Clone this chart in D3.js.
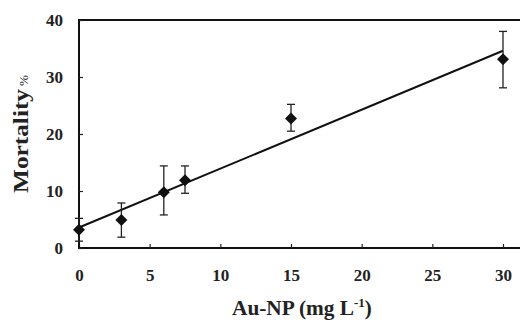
<!DOCTYPE html>
<html>
<head>
<meta charset="utf-8">
<script src="https://cdn.jsdelivr.net/npm/d3@7"></script>
<style>
  body { margin: 0; background: #fff; }
  svg { display: block; }
</style>
</head>
<body>
<svg width="520" height="320"></svg>
<script>
// Data
const concentrations = [0, 3, 6, 7.5, 15, 30];
const mortality = [3.2, 4.9, 9.8, 11.9, 22.7, 33.1];
const errUpper = [5.2, 7.9, 14.4, 14.4, 25.2, 38.0];
const errLower = [1.2, 1.9, 5.8, 9.6, 20.5, 28.1];
const fitLine = [{ x: 0, y: 3.6 }, { x: 30, y: 34.6 }];
const xTicks = [0, 5, 10, 15, 20, 25, 30];
const yTicks = [0, 10, 20, 30, 40];

const svg = d3.select('svg');
const margin = { top: 20, right: 17, bottom: 72, left: 79 };
const width = 520, height = 320;

const x = d3.scaleLinear().domain([0, 30]).range([margin.left, width - margin.right]);
const y = d3.scaleLinear().domain([0, 40]).range([height - margin.bottom, margin.top]);

const font = '"Liberation Serif", "Times New Roman", serif';

// Top border line (extends to the right edge)
svg.append('line')
  .attr('x1', x(0)).attr('x2', width)
  .attr('y1', y(40)).attr('y2', y(40))
  .attr('stroke', '#111').attr('stroke-width', 2);

// Axes
const xAxis = d3.axisBottom(x).tickValues(xTicks).tickSize(-4).tickPadding(21).tickFormat(d3.format('d'));
const yAxis = d3.axisLeft(y).tickValues(yTicks).tickSize(-4).tickPadding(16);

const gx = svg.append('g').attr('transform', `translate(0,${y(0)})`).call(xAxis);
gx.select('.domain').attr('d', `M${x(0)},0H${width}`).attr('stroke', '#111').attr('stroke-width', 2);

const gy = svg.append('g').attr('transform', `translate(${x(0)},0)`).call(yAxis);
gy.select('.domain').attr('d', `M0,${y(0) + 1}V${y(40) - 1}`).attr('stroke', '#111').attr('stroke-width', 2);

svg.selectAll('.tick line').attr('stroke', '#222').attr('stroke-width', 1.2);
svg.selectAll('.tick text')
  .attr('font-family', font).attr('font-size', 17).attr('font-weight', 'bold').attr('fill', '#222');

// Regression line
const line = d3.line().x(d => x(d.x)).y(d => y(d.y));
svg.append('path').datum(fitLine)
  .attr('d', line).attr('fill', 'none').attr('stroke', '#111').attr('stroke-width', 2);

// Error bars
const pts = concentrations.map((c, i) => ({ c, m: mortality[i], hi: errUpper[i], lo: errLower[i] }));
const eb = svg.append('g').attr('stroke', '#222').attr('stroke-width', 1.3);
pts.forEach(p => {
  eb.append('line').attr('x1', x(p.c)).attr('x2', x(p.c)).attr('y1', y(p.hi)).attr('y2', y(p.lo));
  eb.append('line').attr('x1', x(p.c) - 4).attr('x2', x(p.c) + 4).attr('y1', y(p.hi)).attr('y2', y(p.hi));
  eb.append('line').attr('x1', x(p.c) - 4).attr('x2', x(p.c) + 4).attr('y1', y(p.lo)).attr('y2', y(p.lo));
});

// Diamond markers
svg.append('g').selectAll('path').data(pts).join('path')
  .attr('transform', d => `translate(${x(d.c)},${y(d.m)}) rotate(45)`)
  .attr('d', d3.symbol().type(d3.symbolSquare).size(72))
  .attr('fill', '#111');

// Axis titles
const yt = svg.append('text')
  .attr('transform', `translate(28,193) rotate(-90)`)
  .attr('text-anchor', 'start')
  .attr('font-family', font).attr('font-size', 20).attr('font-weight', 'bold').attr('fill', '#222');
yt.append('tspan').attr('textLength', 104).attr('lengthAdjust', 'spacingAndGlyphs').text('Mortality');
yt.append('tspan').attr('font-size', 13).attr('font-weight', 'normal').attr('dx', 3).text('%');

const xt = svg.append('text')
  .attr('x', 232).attr('y', 315)
  .attr('text-anchor', 'start')
  .attr('font-family', font).attr('font-size', 21).attr('font-weight', 'bold').attr('fill', '#222');
xt.append('tspan').attr('textLength', 122).attr('lengthAdjust', 'spacingAndGlyphs').text('Au-NP (mg L');
xt.append('tspan').attr('dy', -8).attr('font-size', 13).text('-1');
xt.append('tspan').attr('dy', 8).text(')');
</script>
</body>
</html>
